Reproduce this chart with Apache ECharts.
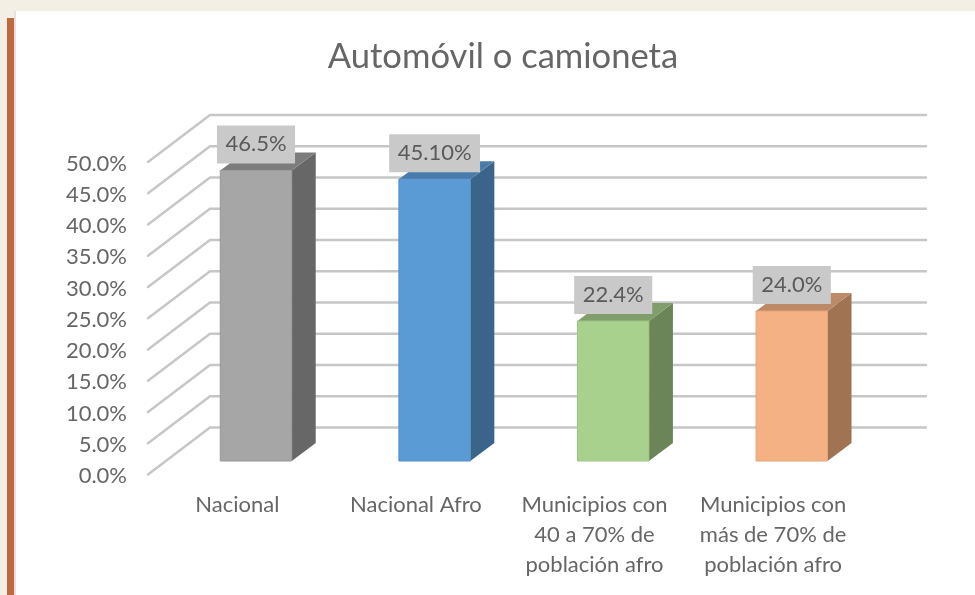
<!DOCTYPE html>
<html><head><meta charset="utf-8">
<style>html,body{margin:0;padding:0;background:#f3efe4}#c{width:975px;height:595px}</style>
<script src="https://cdn.jsdelivr.net/npm/echarts@6/dist/echarts.min.js"></script>
</head><body><div id="c"></div>
<script>
const categories = ['Nacional','Nacional Afro','Municipios con\n40 a 70% de\npoblación afro','Municipios con\nmás de 70% de\npoblación afro'];
const values = [46.5,45.1,22.4,24.0];
const valueLabels = ['46.5%','45.10%','22.4%','24.0%'];
const gridTicks = [0,5,10,15,20,25,30,35,40,45,50];
const frontColors = ['#a6a6a6','#5b9bd5','#a9d18e','#f4b183'];
const sideColors = ['#676767','#3a6489','#6b8559','#a07353'];
const topColors = ['#7c7c7c','#4a7cab','#7f9e6b','#bc8a67'];
const edgeColors = ['#989898','#5590c6','#9dc383','#e3a578'];
const FONT = 'Lato, "Open Sans", sans-serif';
const TEXT = '#666666';
const chart = echarts.init(document.getElementById('c'), null, {renderer:'canvas'});
chart.setOption({
  animation:false,
  backgroundColor:'#f3efe4',
  graphic:[
    {type:'rect',z:-10,shape:{x:14,y:11,width:961,height:584},style:{fill:'#e2e2e2'}},
    {type:'rect',z:-9,shape:{x:16,y:11,width:959,height:584},style:{fill:'#ffffff'}},
    {type:'rect',z:-9,shape:{x:7,y:18,width:7,height:577},style:{fill:'#c0693c'}}
  ],
  title:{text:'Automóvil o camioneta',left:498,top:34,textAlign:'center',
    textStyle:{fontFamily:FONT,fontSize:34.6,fontWeight:'normal',color:TEXT}},
  grid:{left:148,top:162,width:714.4,height:312.5},
  xAxis:{type:'category',data:categories,axisLine:{show:false},axisTick:{show:false},
    axisLabel:{interval:0,margin:15,fontFamily:FONT,fontSize:22,lineHeight:30,color:TEXT}},
  yAxis:{type:'value',min:0,max:50,interval:5,axisLine:{show:false},axisTick:{show:false},splitLine:{show:false},
    axisLabel:{margin:21,formatter:v=>'{t|'+v.toFixed(1)+'%}',
      rich:{t:{fontFamily:FONT,fontSize:22,color:TEXT,padding:[3,0,0,0]}}}},
  series:[
    {type:'custom',z:1,silent:true,data:gridTicks.map(t=>[0,t]),encode:{x:0,y:1},
     renderItem(params,api){
       const p=api.coord([0,api.value(1)]);
       const cs=params.coordSys;
       const x=cs.x, y=p[1];
       return {type:'polyline',shape:{points:[[x,y],[x+62,y-47],[x+cs.width+63.6,y-47]]},
         style:{fill:null,stroke:'#c6c6c6',lineWidth:2.4,lineCap:'round',lineJoin:'round'}};
     }},
    {type:'custom',z:2,silent:true,data:values.map((v,i)=>[i,v]),encode:{x:0,y:1},
     renderItem(params,api){
       const i=params.dataIndex;
       const top=api.coord([api.value(0),api.value(1)]);
       const base=api.coord([api.value(0),0]);
       const w=api.size([1,0])[0]*0.4;
       const ox=18.7, oy=-13.5, dx=24, dy=-18;
       const x0=top[0]+ox-w/2, x1=x0+w, yT=top[1]+oy, yB=base[1]+oy;
       return {type:'group',children:[
         {type:'polygon',shape:{points:[[x1,yT],[x1+dx,yT+dy],[x1+dx,yB+dy],[x1,yB]]},style:{fill:sideColors[i]}},
         {type:'polygon',shape:{points:[[x0,yT],[x0+dx,yT+dy],[x1+dx,yT+dy],[x1,yT]]},style:{fill:topColors[i]}},
         {type:'rect',shape:{x:x0,y:yT,width:w,height:yB-yT},style:{fill:frontColors[i],stroke:edgeColors[i],lineWidth:1}},
         {type:'text',z2:10,x:x0+w/2,y:yT-7,style:{text:valueLabels[i],fontFamily:FONT,fontSize:22,lineHeight:22,fill:'#5a5a5a',
           align:'center',verticalAlign:'bottom',backgroundColor:'#c9c9c9',padding:[8,8.5,8,8.5]}}
       ]};
     }}
  ]
});
</script></body></html>
